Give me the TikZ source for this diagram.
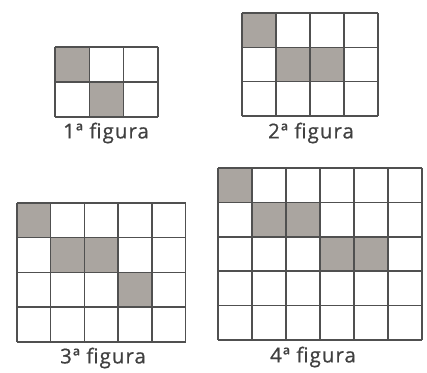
\documentclass[tikz,border=0pt]{standalone}
\usepackage{fontspec}
\setmainfont{Open Sans}
\newfontfamily\figfont[LetterSpace=5,FakeBold=0.6]{Open Sans}
\usepackage{xcolor}
\definecolor{cellgray}{RGB}{170,165,160}
\definecolor{linegray}{RGB}{80,80,80}
\tikzset{
  gridline/.style={draw=linegray, line width=1.5pt},
  shaded/.style={fill=cellgray},
  figlabel/.style={font=\figfont\fontsize{20.5}{24}\selectfont, text=black!75, inner sep=0pt}
}

\begin{document}
\begin{tikzpicture}[x=1pt,y=-1pt]
  \useasboundingbox (0,0) rectangle (427,372);
  % 1a figura
  \begin{scope}[shift={(55,47)}]
    \foreach \c/\r in {0/0,1/1}
      \fill[shaded] (\c*34.3,\r*35) rectangle ++(34.3,35);
    \foreach \i in {0,...,3}
      \draw[gridline] (\i*34.3,0) -- (\i*34.3,70);
    \foreach \j in {0,...,2}
      \draw[gridline] (0,\j*35) -- (103,\j*35);
  \end{scope}
  \node[figlabel] (lab1) at (106,133) {1ª figura};
  % 2a figura
  \begin{scope}[shift={(242,13)}]
    \foreach \c/\r in {0/0,1/1,2/1}
      \fill[shaded] (\c*34,\r*34.3) rectangle ++(34,34.3);
    \foreach \i in {0,...,4}
      \draw[gridline] (\i*34,0) -- (\i*34,103);
    \foreach \j in {0,...,3}
      \draw[gridline] (0,\j*34.3) -- (136,\j*34.3);
  \end{scope}
  \node[figlabel] (lab2) at (311,133) {2ª figura};
  % 3a figura
  \begin{scope}[shift={(17,203)}]
    \foreach \c/\r in {0/0,1/1,2/1,3/2}
      \fill[shaded] (\c*33.7,\r*34.7) rectangle ++(33.7,34.7);
    \foreach \i in {0,...,5}
      \draw[gridline] (\i*33.7,0) -- (\i*33.7,138.8);
    \foreach \j in {0,...,4}
      \draw[gridline] (0,\j*34.7) -- (168.5,\j*34.7);
  \end{scope}
  \node[figlabel] (lab3) at (103,358) {3ª figura};
  % 4a figura
  \begin{scope}[shift={(218,168)}]
    \foreach \c/\r in {0/0,1/1,2/1,3/2,4/2}
      \fill[shaded] (\c*34,\r*34.4) rectangle ++(34,34.4);
    \foreach \i in {0,...,6}
      \draw[gridline] (\i*34,0) -- (\i*34,172);
    \foreach \j in {0,...,5}
      \draw[gridline] (0,\j*34.4) -- (204,\j*34.4);
  \end{scope}
  \node[figlabel] (lab4) at (313,357) {4ª figura};
\end{tikzpicture}
\end{document}
